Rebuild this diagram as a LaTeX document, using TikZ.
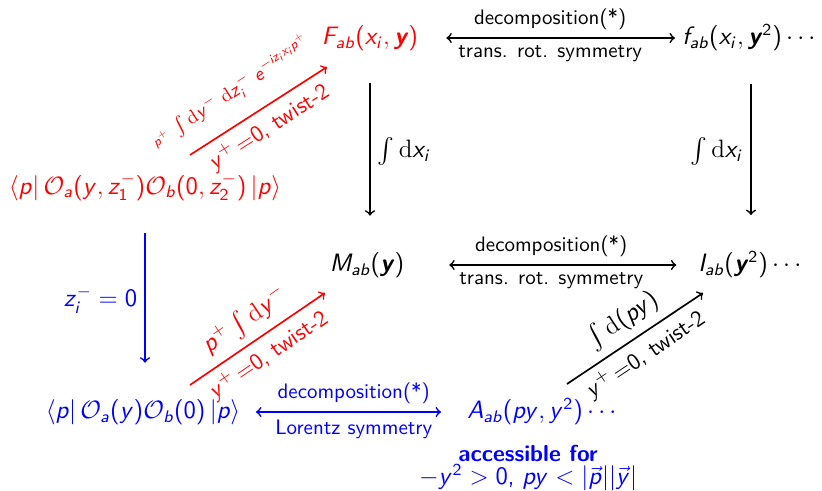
\documentclass[tikz,border=0pt]{standalone}
\usepackage{amsmath,amssymb}
\usetikzlibrary{positioning}

% sans slanted letters and sans digits in math
\DeclareSymbolFont{sfletters}{OT1}{cmss}{m}{sl}
\SetSymbolFont{operators}{normal}{OT1}{cmss}{m}{n}
\DeclareMathSymbol{a}{\mathalpha}{sfletters}{`a}
\DeclareMathSymbol{b}{\mathalpha}{sfletters}{`b}
\DeclareMathSymbol{e}{\mathalpha}{sfletters}{`e}
\DeclareMathSymbol{f}{\mathalpha}{sfletters}{`f}
\DeclareMathSymbol{i}{\mathalpha}{sfletters}{`i}
\DeclareMathSymbol{p}{\mathalpha}{sfletters}{`p}
\DeclareMathSymbol{x}{\mathalpha}{sfletters}{`x}
\DeclareMathSymbol{y}{\mathalpha}{sfletters}{`y}
\DeclareMathSymbol{z}{\mathalpha}{sfletters}{`z}
\DeclareMathSymbol{A}{\mathalpha}{sfletters}{`A}
\DeclareMathSymbol{F}{\mathalpha}{sfletters}{`F}
\DeclareMathSymbol{I}{\mathalpha}{sfletters}{`I}
\DeclareMathSymbol{M}{\mathalpha}{sfletters}{`M}

\newcommand{\vy}{\textbf{\textit{y}}}
\newcommand{\dd}{\textrm{d}}

\tikzset{
  obj/.style={font=\large\sffamily},
  lbl/.style={font=\normalsize\sffamily},
  twist/.style={font=\fontsize{11}{13}\selectfont\sffamily},
  dbl/.style={<->,thick},
  down/.style={->,thick,shorten <=12pt,shorten >=14pt},
  diag/.style={->,thick}
}

\begin{document}
\begin{tikzpicture}[x=0.477pt,y=-0.477pt]
\useasboundingbox (0,0) rectangle (822,491);
% the four corners
\node[obj,red] (F) at (370,38) {$F_{ab}(x_i,\vy)$};
\node[obj] (f) at (751,38) {$f_{ab}(x_i,\vy^2)\cdots$};
\node[obj] (M) at (367,265) {$M_{ab}(\vy)$};
\node[obj] (I) at (752,265) {$I_{ab}(\vy^2)\cdots$};
\node[obj,red] (W) at (145,187) {$\langle p|\,\mathcal{O}_a(y,z_1^-)\mathcal{O}_b(0,z_2^-)\,|p\rangle$};
\node[obj,blue] (L) at (143,412) {$\langle p|\,\mathcal{O}_a(y)\mathcal{O}_b(0)\,|p\rangle$};
\node[obj,blue] (A) at (544,412) {$A_{ab}(py,y^2)\cdots$};
\node[blue,twist,font=\fontsize{11}{13}\selectfont\sffamily\bfseries] (acc) at (528,453) {accessible for};
\node[blue,font=\fontsize{11.5}{14}\selectfont\sffamily] (cond) at (528,478) {$-y^2>0$, $py<|\vec{p}||\vec{y}|$};
%
\draw[dbl,shorten <=10pt,shorten >=0pt] (F) -- (f)
  node[lbl,midway,above]{decomposition(*)} node[lbl,midway,below]{trans. rot. symmetry};
\draw[dbl,shorten <=18pt,shorten >=7pt] (M) -- (I)
  node[lbl,midway,above]{decomposition(*)} node[lbl,midway,below]{trans. rot. symmetry};
\draw[dbl,blue,shorten <=4pt,shorten >=9pt] (L) -- (A)
  node[lbl,midway,above]{decomposition(*)} node[lbl,midway,below]{Lorentz symmetry};
%
\draw[down] (F.south) -- (F.south |- M.north) node[obj,midway,right]{$\int\dd x_i$};
\draw[down] (f.south) -- (f.south |- I.north) node[obj,midway,left]{$\int\dd x_i$};
\draw[down,blue] (W.south) -- (W.south |- L.north) node[obj,midway,left]{$z_i^-=0$};
%
\coordinate (r1s) at (190,155);
\coordinate (r1e) at (327,67);
\coordinate (r2s) at (190,385);
\coordinate (r2e) at (325,293);
\coordinate (b1s) at (567,384);
\coordinate (b1e) at (703,293);
\draw[diag,red] (r1s) -- (r1e)
  node[pos=0.42,sloped,above=5pt,font=\small\sffamily]{$\scriptstyle p^+\;\textstyle\int\dd y^-\;\dd z_i^-\;e^{-iz_ix_ip^+}$}
  node[midway,sloped,below,twist]{$y^+\,{=}0$, twist-2};
\draw[diag,red] (r2s) -- (r2e)
  node[midway,sloped,above,obj]{$p^+\int\dd y^-$}
  node[midway,sloped,below,twist]{$y^+\,{=}0$, twist-2};
\draw[diag] (b1s) -- (b1e)
  node[midway,sloped,above,obj]{$\int\dd(py)$}
  node[midway,sloped,below,twist]{$y^+\,{=}0$, twist-2};
\end{tikzpicture}
\end{document}
